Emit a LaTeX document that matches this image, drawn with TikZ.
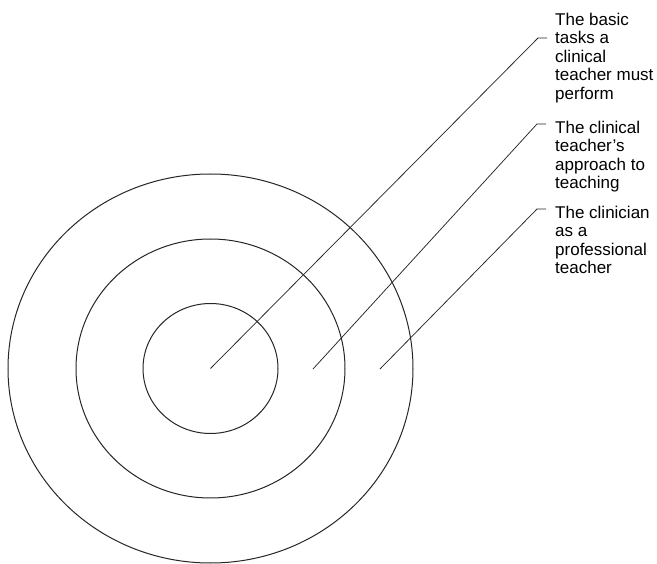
\documentclass[tikz,border=0pt]{standalone}
\usepackage{fontspec}
\setmainfont{Liberation Sans}
\usetikzlibrary{positioning}
\begin{document}
\begin{tikzpicture}[
    x=1pt, y=-1pt,
    ring/.style={draw=black!85, line width=1pt},
    leader/.style={draw=black!85, line width=0.75pt},
    lbl/.style={anchor=north west, inner sep=0pt, align=left, font=\fontsize{17}{18.5}\selectfont}
]
\useasboundingbox (0,0) rectangle (657,564);

% centre of the rings
\coordinate (ctr) at (210.5,368.5);

% the three rings
\draw[ring] (ctr) ellipse [x radius=202.5pt, y radius=194.5pt];
\draw[ring] (ctr) ellipse [x radius=134.5pt, y radius=129.5pt];
\draw[ring] (ctr) ellipse [x radius=67.5pt, y radius=65pt];

% labels
\node[lbl] (tasks) at (555,12.6) {The basic\\tasks a\\clinical\\teacher must\\perform};
\node[lbl] (approach) at (555,120.6) {The clinical\\teacher’s\\approach to\\teaching};
\node[lbl] (professional) at (555,205.6) {The clinician\\as a\\professional\\teacher};

% start, bend and end of each leader
\coordinate (s2) at (313,369);
\coordinate (s3) at (380,369);
\coordinate (k1) at (538,38);
\coordinate (k2) at (537,124);
\coordinate (k3) at (537,209);
\coordinate (e1) at (547,38);
\coordinate (e2) at (546,124);
\coordinate (e3) at (546,209);

% leaders
\draw[leader] (ctr) -- (k1) -- (e1);
\draw[leader] (s2) -- (k2) -- (e2);
\draw[leader] (s3) -- (k3) -- (e3);

\end{tikzpicture}
\end{document}
